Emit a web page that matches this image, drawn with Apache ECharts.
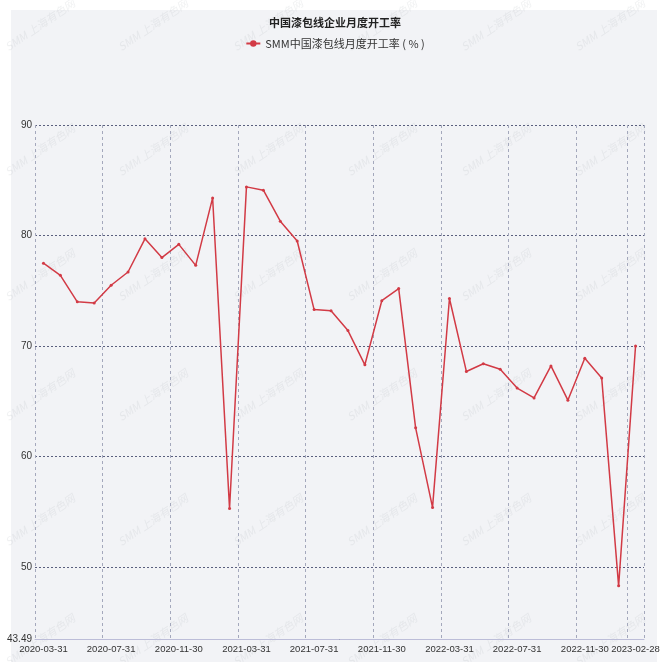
<!DOCTYPE html>
<html>
<head>
<meta charset="utf-8">
<script src="https://cdn.jsdelivr.net/npm/echarts@6/dist/echarts.min.js"></script>
<style>
html,body{margin:0;padding:0;background:#ffffff;width:670px;height:662px;overflow:hidden;}
#chart{position:absolute;left:0;top:0;width:670px;height:662px;}
</style>
</head>
<body>
<div id="chart"></div>
<script>
var titleText = '中国漆包线企业月度开工率';
var seriesName = 'SMM中国漆包线月度开工率 ( % )';
var categories = [
  '2020-03-31','2020-04-30','2020-05-31','2020-06-30','2020-07-31','2020-08-31','2020-09-30','2020-10-31','2020-11-30','2020-12-31',
  '2021-01-31','2021-02-28','2021-03-31','2021-04-30','2021-05-31','2021-06-30','2021-07-31','2021-08-31','2021-09-30','2021-10-31','2021-11-30','2021-12-31',
  '2022-01-31','2022-02-28','2022-03-31','2022-04-30','2022-05-31','2022-06-30','2022-07-31','2022-08-31','2022-09-30','2022-10-31','2022-11-30','2022-12-31',
  '2023-01-31','2023-02-28'
];
var values = [
  77.5, 76.4, 74.0, 73.9, 75.5, 76.7, 79.7, 78.0, 79.2, 77.3,
  83.4, 55.3, 84.4, 84.1, 81.3, 79.5, 73.3, 73.2, 71.4, 68.3, 74.1, 75.2,
  62.6, 55.4, 74.3, 67.7, 68.4, 67.9, 66.2, 65.3, 68.2, 65.1, 68.9, 67.1,
  48.3, 70.0
];
var yMin = 43.49;
var yMax = 90;
var watermark = 'SMM 上海有色网';

var chart = echarts.init(document.getElementById('chart'));
var lastIdx = categories.length - 1;
function showIdx(i){ return i % 4 === 0 || i === lastIdx; }

var graphics = [{
  type: 'rect', silent: true, z: -10,
  shape: { x: 11, y: 10, width: 646, height: 652 },
  style: { fill: '#f2f3f6' }
}];
var wmCols = [51, 164, 279, 393, 507, 621];
var wmRows = [35, 160, 285, 405, 530, 650];
wmRows.forEach(function(ry){
  wmCols.forEach(function(cx){
    graphics.push({
      type:'text', x: cx - 11, y: ry - 10, rotation: 0.6, originX: 0, originY: 0,
      silent: true, z: 0,
      style:{ text: watermark, fill:'rgba(170,175,185,0.18)', font:'italic 11px "Noto Sans CJK SC"', align:'center', verticalAlign:'middle' }
    });
  });
});

chart.setOption({
  backgroundColor: '#ffffff',
  animation: false,
  graphic: graphics,
  title: {
    text: titleText, left: 'center', top: 12,
    textStyle: { fontSize: 11, fontWeight: 'bold', color: '#222', fontFamily: 'Noto Sans CJK SC' }
  },
  legend: {
    top: 33, left: 'center',
    itemWidth: 14, itemHeight: 8,
    textStyle: { fontSize: 11, color: '#333', fontFamily: 'Noto Sans CJK SC' },
    data: [seriesName]
  },
  grid: { left: 35, right: 26, top: 125, bottom: 23, containLabel: false, outerBoundsMode: 'none' },
  xAxis: {
    type: 'category',
    data: categories,
    boundaryGap: true,
    axisLine: { show: true, lineStyle: { color: '#bcbdd8', width: 1 } },
    axisTick: { show: false },
    axisLabel: {
      interval: function(i){ return showIdx(i); },
      hideOverlap: false,
      fontSize: 9.5, color: '#333', margin: 5, fontFamily: 'Liberation Sans'
    },
    splitLine: {
      show: true,
      interval: function(i){ return showIdx(i); },
      lineStyle: { color: '#a4a8bc', type: [3, 3], width: 1 }
    }
  },
  yAxis: {
    type: 'value',
    min: yMin, max: yMax,
    splitNumber: 5,
    axisLine: { show: false },
    axisTick: { show: false },
    axisLabel: {
      fontSize: 10, color: '#333', margin: 3,
      fontFamily: 'Liberation Sans',
      formatter: function(v){ return String(Math.round(v * 100) / 100); }
    },
    splitLine: { show: true, lineStyle: { color: '#5a5f7e', type: [2, 2], width: 1 } }
  },
  series: [{
    name: seriesName,
    type: 'line',
    data: values,
    symbol: 'circle',
    symbolSize: 3,
    showSymbol: true,
    lineStyle: { color: '#d23a45', width: 1.5 },
    itemStyle: { color: '#d23a45' },
    z: 5
  }]
});
</script>
</body>
</html>
